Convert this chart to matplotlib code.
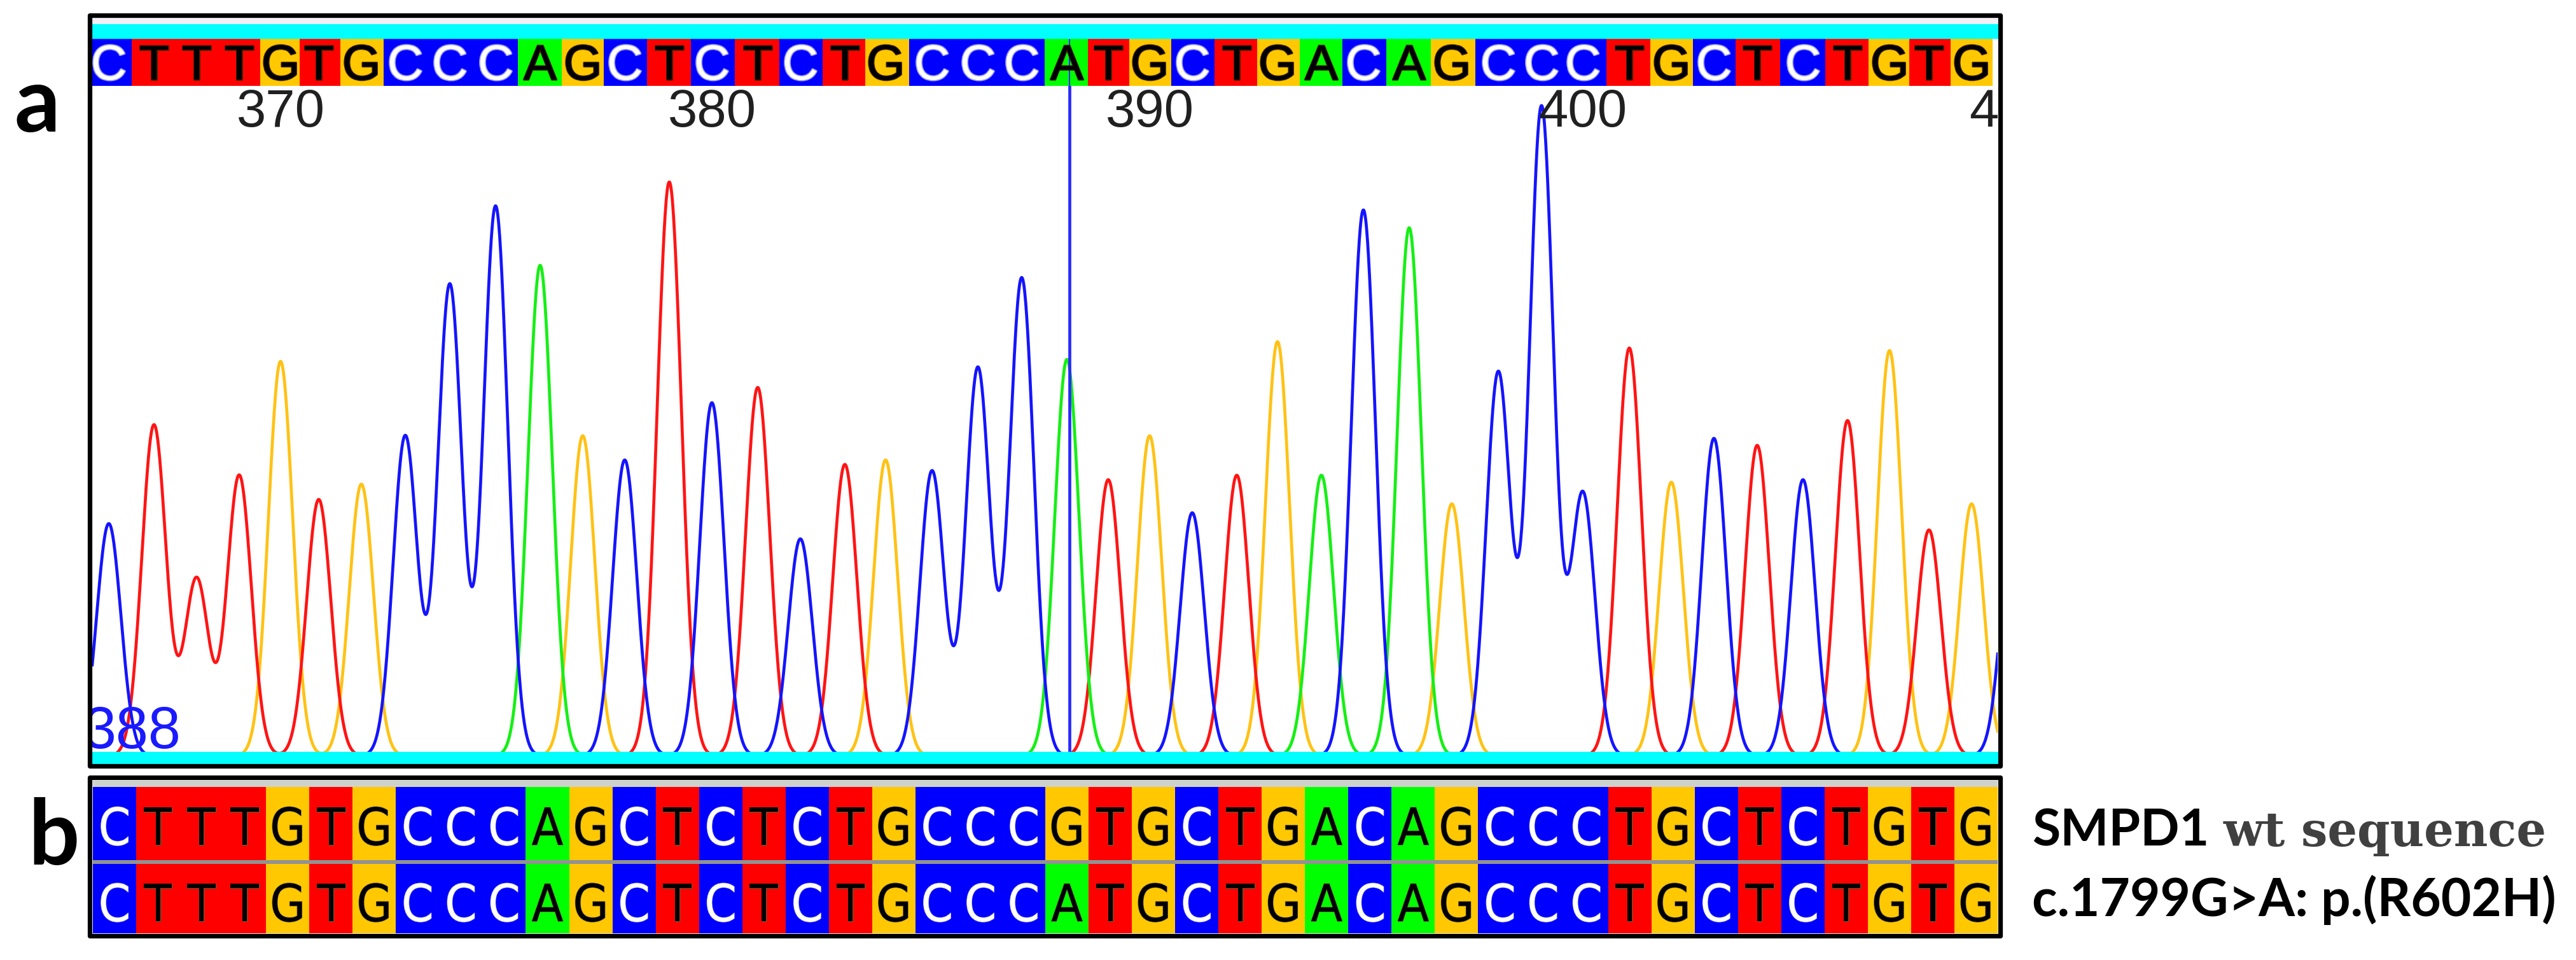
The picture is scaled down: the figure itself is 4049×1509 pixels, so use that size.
import numpy as np
import matplotlib
matplotlib.use("Agg")
import matplotlib.pyplot as plt
from matplotlib.patches import Rectangle
import matplotlib.patheffects as pe
from matplotlib import font_manager
from matplotlib.font_manager import FontProperties

# ---------------- data ----------------
called_seq = list("CTTTGTGCCCAGCTCTCTGCCCATGCTGACAGCCCTGCTCTGTG")
wt_seq = list("CTTTGTGCCCAGCTCTCTGCCCGTGCTGACAGCCCTGCTCTGTG")
mut_seq = list("CTTTGTGCCCAGCTCTCTGCCCATGCTGACAGCCCTGCTCTGTG")
peak_channel = list("CTTTGTGCCCAGCTCTCTGCCCATGCTGACAGCCCTGCTCTGTGC")
peak_pos = [171, 242, 309, 376, 441, 501, 568, 637, 707, 779, 849, 916, 982,
            1052, 1119, 1191, 1258, 1328, 1392, 1465, 1537, 1606, 1677, 1742,
            1807, 1874, 1944, 2008, 2077, 2143, 2215, 2282, 2355, 2423, 2488,
            2561, 2627, 2694, 2762, 2834, 2904, 2970, 3032, 3099, 3165]
peak_height = [365, 520, 279, 441, 620, 403, 427, 503, 741, 864, 771, 503, 465,
               902, 555, 579, 341, 458, 465, 448, 610, 751, 623, 434, 503, 382,
               441, 651, 441, 858, 830, 396, 603, 1020, 413, 641, 430, 499, 488,
               434, 527, 637, 355, 396, 380]
first_base_number = 366
tick_numbers = [370, 380, 390, 400, 410]
cursor_number = 388
row_label_1 = ("SMPD1", "wt sequence")
row_label_2 = "c.1799G>A: p.(R602H)"
panel_labels = ["a", "b"]

# ---------------- style ----------------
W, H, DPI = 4049, 1509, 100
base_color = {"C": "#0000ff", "T": "#ff0000", "G": "#ffc800", "A": "#00ff00"}
trace_color = {"C": "#1414ff", "T": "#ff1414", "G": "#ffc214", "A": "#14f014"}


def find_narrow():
    files = [f.fname for f in font_manager.fontManager.ttflist]
    for key in ["LiberationSansNarrow-Regular", "DejaVuSansCondensed.ttf",
                "RobotoCondensed-Regular", "OpenSans_Condensed-Regular",
                "NotoSans-Condensed.ttf", "NotoSans_Condensed-Regular"]:
        for f in files:
            if key in f:
                return FontProperties(fname=f)
    return FontProperties(family="Liberation Sans")


narrow_fp = find_narrow()

fig = plt.figure(figsize=(W / DPI, H / DPI), dpi=DPI, facecolor="white")


def rect(l, t, r, b):
    return [l / W, 1 - b / H, (r - l) / W, (b - t) / H]


def fx(x):
    return x / W


def fy(y):
    return 1 - y / H


X0, X1 = 145, 3140

# ---------- panel a: base-call bar ----------
ax_top = fig.add_axes(rect(X0, 60, X1, 135))
ax_top.set_xlim(X0, X1)
ax_top.set_ylim(0, 1)
ax_top.axis("off")
pp = np.array(peak_pos, dtype=float)
n = len(called_seq)
bounds = [pp[0] - (pp[1] - pp[0]) / 2] + list((pp[:n] + pp[1:n + 1]) / 2)
for i, b in enumerate(called_seq):
    ax_top.bar(bounds[i], 1, width=bounds[i + 1] - bounds[i], bottom=0,
               align="edge", color=base_color[b], linewidth=0)
    if b == "C":
        ax_top.text(pp[i], 0.13, b, ha="center", va="baseline", color="white",
                    family="Liberation Sans", fontsize=56,
                    path_effects=[pe.withStroke(linewidth=2.5, foreground="#a0a0f0")])
    else:
        ax_top.text(pp[i], 0.13, b, ha="center", va="baseline", color="black",
                    family="Liberation Sans", fontsize=56,
                    path_effects=[pe.withStroke(linewidth=2, foreground="#402000")])
cursor_x = pp[cursor_number - first_base_number]
ax_top.axvline(cursor_x + 4, color="#2a2aff", lw=1.5)

# ---------- panel a: traces ----------
ax_tr = fig.add_axes(rect(X0, 135, X1, 1188), sharex=ax_top)
ax_tr.set_ylim(0, 1053)
ax_tr.axis("off")
xs = np.linspace(X0 - 40, X1 + 40, 4000)
sigma = 19.0
for ch in ["G", "T", "A", "C"]:
    ys = np.zeros_like(xs)
    for p, h, c in zip(peak_pos, peak_height, peak_channel):
        if c == ch:
            ys += h * np.exp(-(xs - p) ** 2 / (2 * sigma ** 2))
    ax_tr.plot(xs, ys, color=trace_color[ch], lw=3.4, solid_joinstyle="round")
ax_tr.axvline(cursor_x + 4, color="#2a2aff", lw=3.4, zorder=5)

for num in tick_numbers:
    ax_tr.text(pp[num - first_base_number], 0.96, str(num),
               transform=ax_tr.get_xaxis_transform(), ha="center", va="center",
               family="Liberation Sans", fontsize=60, color="#202020", clip_on=True)
ax_tr.text(132, 12, str(cursor_number), ha="left", va="baseline",
           family="Liberation Sans", fontsize=66, color="#1a1aff", clip_on=True)

# decorations of panel a
fig.patches.append(Rectangle((fx(X0), fy(38)), (X1 - X0) / W, 11 / H,
                             transform=fig.transFigure, color="#f3eff5", zorder=1))
fig.patches.append(Rectangle((fx(X0), fy(60)), (X1 - X0) / W, 22 / H,
                             transform=fig.transFigure, color="#00ffff", zorder=1))
fig.patches.append(Rectangle((fx(X0), fy(1200)), (X1 - X0) / W, 18 / H,
                             transform=fig.transFigure, color="#00ffff", zorder=3))
fig.patches.append(Rectangle((fx(141), fy(1204)), (3144 - 141) / W, (1204 - 24) / H,
                             transform=fig.transFigure, fill=False, ec="black",
                             lw=5.2, joinstyle="round", zorder=4))

# ---------- panel b ----------
ax_b = fig.add_axes(rect(146, 1227, X1, 1467))
ax_b.set_xlim(0, len(wt_seq))
ax_b.set_ylim(240, 0)
ax_b.axis("off")
ax_b.axhspan(0, 10, color="#cfd2cc", lw=0)
rows = [(wt_seq, 10, 115, 101), (mut_seq, 131, 109, 221)]
for seq, top, hgt, base_y in rows:
    for i, b in enumerate(seq):
        ax_b.bar(i, hgt, width=1, bottom=top, align="edge",
                 color=base_color[b], linewidth=0)
        col = "white" if b == "C" else "black"
        sh = "#9a9ad8" if b == "C" else "#6a5a30"
        ax_b.text(i + 0.5, base_y, b, ha="center", va="baseline", color=col,
                  fontproperties=narrow_fp, fontsize=58,
                  path_effects=[pe.withStroke(linewidth=1.0, foreground=sh)])
ax_b.axhspan(125, 131, color="#7f7f7f", alpha=0.85, lw=0)
fig.patches.append(Rectangle((fx(141), fy(1471)), (3144 - 141) / W, (1471 - 1222) / H,
                             transform=fig.transFigure, fill=False, ec="black",
                             lw=5.2, joinstyle="round", zorder=4))

# ---------- labels ----------
fig.text(fx(22), fy(207), panel_labels[0], family="Lato", weight="bold",
         fontsize=102, color="black", va="baseline", ha="left")
fig.text(fx(44), fy(1358), panel_labels[1], family="Lato", weight="bold",
         fontsize=102, color="black", va="baseline", ha="left")

t1 = fig.text(fx(3194), fy(1330), row_label_1[0], family="Lato",
              weight="bold", fontsize=58, color="black", va="baseline", ha="left")
fig.canvas.draw()
bb = t1.get_window_extent()
fig.text((bb.x1 + 22) / W, fy(1330), row_label_1[1], family="DejaVu Serif",
         weight="bold", fontsize=53, color="#404040", va="baseline", ha="left")
fig.text(fx(3194), fy(1440), row_label_2, family="Lato", weight="bold",
         fontsize=59, color="black", va="baseline", ha="left")

fig.savefig("out.png", dpi=DPI, facecolor="white")
